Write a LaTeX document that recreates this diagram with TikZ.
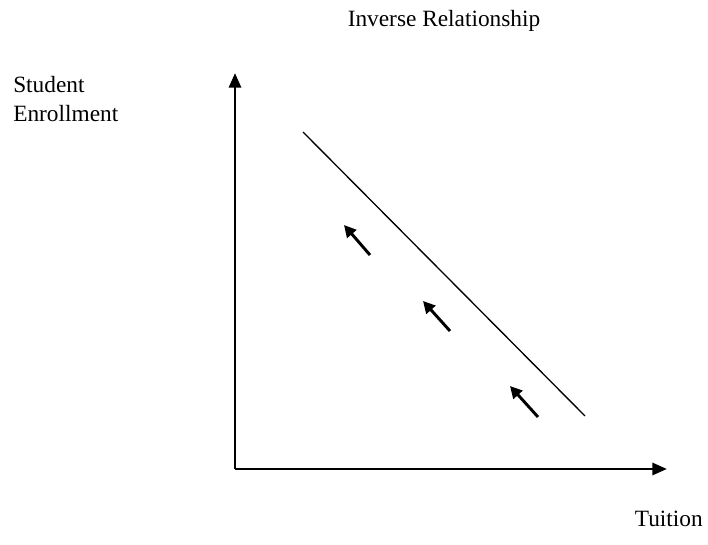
\documentclass[tikz,border=0pt]{standalone}
\usepackage{fontspec}
\setmainfont{Liberation Serif}
\usetikzlibrary{arrows.meta}
\begin{document}
\begin{tikzpicture}[x=0.75pt,y=-0.75pt,
    axis/.style={line width=2.2pt,-{Triangle[length=11pt,width=9pt]}},
    moveArrow/.style={line width=2.2pt,-{Triangle[length=9pt,width=9pt]}},
    lbl/.style={font=\fontsize{17.5}{22}\selectfont,inner sep=0pt}]

    \useasboundingbox (0,0) rectangle (708,545);

    % axes
    \coordinate (O) at (235,469);
    \coordinate (Ytop) at (235,73);
    \coordinate (Xend) at (667,469);
    \draw[axis] (O) -- (Ytop);
    \draw[axis] (O) -- (Xend);

    % demand line
    \coordinate (Dtop) at (303,132);
    \coordinate (Dbot) at (585,416);
    \draw[line width=1pt] (Dtop) -- (Dbot);

    % shift arrows
    \foreach \i/\xa/\ya/\xb/\yb in {1/370/255/344/225, 2/450/331/423/301, 3/538/417/510/386} {
        \coordinate (A\i) at (\xa,\ya);
        \coordinate (B\i) at (\xb,\yb);
        \draw[moveArrow] (A\i) -- (B\i);
    }

    % labels
    \node[lbl,anchor=base] (title) at (444,27) {Inverse Relationship};
    \node[lbl,anchor=base west] (ylab1) at (13,93) {Student};
    \node[lbl,anchor=base west] (ylab2) at (13,122) {Enrollment};
    \node[lbl,anchor=base east] (xlab) at (703,527) {Tuition};

\end{tikzpicture}
\end{document}
